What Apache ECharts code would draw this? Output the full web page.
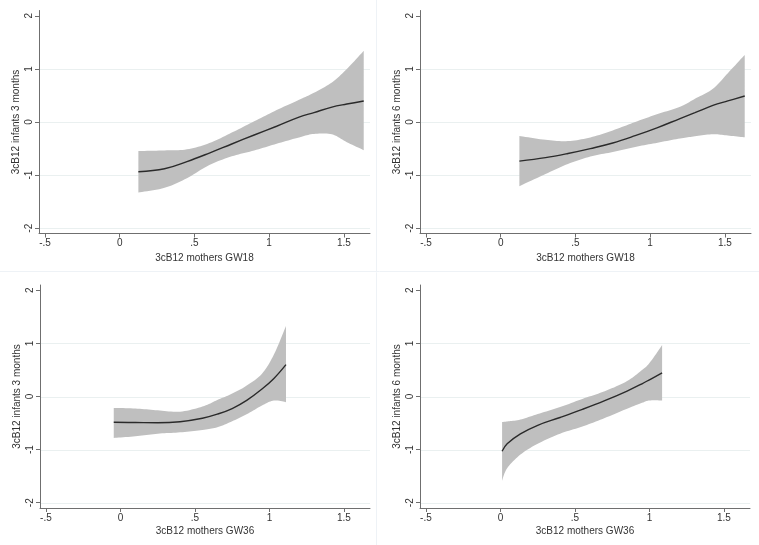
<!DOCTYPE html>
<html><head><meta charset="utf-8">
<script src="https://cdn.jsdelivr.net/npm/echarts@6/dist/echarts.min.js"></script>
<style>html,body{margin:0;padding:0;background:#fff}#c{width:759px;height:545px}</style>
</head><body><div id="c"></div>
<script>
// ---- tick labels / titles ----
const xTicks = [-0.5, 0, 0.5, 1, 1.5];
const yTicks = [-2, -1, 0, 1, 2];
const yGrid = [-2, -1, 0, 1];
const xTitles = ['3cB12 mothers GW18', '3cB12 mothers GW18', '3cB12 mothers GW36', '3cB12 mothers GW36'];
const yTitles = ['3cB12 infants 3 months', '3cB12 infants 6 months', '3cB12 infants 3 months', '3cB12 infants 6 months'];

// ---- panel 1: infants 3 months vs mothers GW18 ----
const p1X   = [0.125, 0.3, 0.45, 0.6, 0.75, 0.9, 1.05, 1.2, 1.3, 1.42, 1.52, 1.633];
const p1Fit = [-0.937, -0.88, -0.745, -0.585, -0.414, -0.245, -0.08, 0.092, 0.178, 0.281, 0.338, 0.396];
const p1Hi  = [-0.547, -0.535, -0.515, -0.397, -0.2, 0.013, 0.224, 0.418, 0.55, 0.746, 1.0, 1.34];
const p1Lo  = [-1.327, -1.24, -1.058, -0.81, -0.647, -0.537, -0.41, -0.29, -0.225, -0.232, -0.38, -0.53];

// ---- panel 2: infants 6 months vs mothers GW18 ----
const p2X   = [0.125, 0.3, 0.45, 0.6, 0.75, 0.9, 1.05, 1.2, 1.3, 1.42, 1.52, 1.633];
const p2Fit = [-0.736, -0.671, -0.593, -0.501, -0.396, -0.258, -0.105, 0.065, 0.176, 0.312, 0.397, 0.49];
const p2Hi  = [-0.264, -0.335, -0.36, -0.29, -0.158, 0.0, 0.15, 0.285, 0.438, 0.625, 0.92, 1.264];
const p2Lo  = [-1.208, -0.98, -0.79, -0.65, -0.565, -0.47, -0.39, -0.31, -0.27, -0.23, -0.255, -0.289];

// ---- panel 3: infants 3 months vs mothers GW36 ----
const p3X   = [-0.045, 0.1, 0.25, 0.4, 0.55, 0.65, 0.75, 0.85, 0.95, 1.03, 1.111];
const p3Fit = [-0.485, -0.49, -0.495, -0.475, -0.41, -0.333, -0.227, -0.068, 0.14, 0.34, 0.6];
const p3Hi  = [-0.215, -0.226, -0.26, -0.285, -0.19, -0.066, 0.055, 0.21, 0.43, 0.79, 1.33];
const p3Lo  = [-0.78, -0.75, -0.7, -0.675, -0.63, -0.58, -0.466, -0.33, -0.17, -0.075, -0.107];

// ---- panel 4: infants 6 months vs mothers GW36 ----
const p4X   = [0.011, 0.045, 0.134, 0.25, 0.4, 0.55, 0.7, 0.85, 0.95, 1.0, 1.085];
const p4Fit = [-1.03, -0.89, -0.704, -0.542, -0.395, -0.242, -0.078, 0.103, 0.24, 0.315, 0.445];
const p4Hi  = [-0.48, -0.47, -0.435, -0.33, -0.2, -0.045, 0.1, 0.29, 0.5, 0.63, 0.968];
const p4Lo  = [-1.585, -1.35, -1.094, -0.89, -0.7, -0.566, -0.405, -0.23, -0.12, -0.075, -0.075];

const panels = [
  {X: p1X, fit: p1Fit, hi: p1Hi, lo: p1Lo},
  {X: p2X, fit: p2Fit, hi: p2Hi, lo: p2Lo},
  {X: p3X, fit: p3Fit, hi: p3Hi, lo: p3Lo},
  {X: p4X, fit: p4Fit, hi: p4Hi, lo: p4Lo}
];

// ---- layout ----
const X_MIN = -0.54, X_MAX = 1.675, Y_MIN = -2.1, Y_MAX = 2.1;
const grids = [
  {left: 39, top: 10.5, width: 331, height: 223},
  {left: 420, top: 10.5, width: 331, height: 223},
  {left: 40, top: 285, width: 330, height: 223},
  {left: 420, top: 285, width: 330, height: 223}
];
const xNameGaps = [20, 20, 18, 18];
const FONT = 'Liberation Sans, Arial, sans-serif';
const TXT = '#333333';
const AX = '#6f6f6f';

function fmt(v) {
  if (v === 0) return '0';
  const s = String(Math.abs(v)).replace(/^0\./, '.');
  return (v < 0 ? '-' : '') + s;
}

function spline(pts, n) {
  const out = [];
  for (let i = 0; i < pts.length - 1; i++) {
    const p0 = pts[i - 1] || pts[i], p1 = pts[i], p2 = pts[i + 1], p3 = pts[i + 2] || pts[i + 1];
    for (let k = 0; k < n; k++) {
      const t = k / n, t2 = t * t, t3 = t2 * t;
      const f = (a, b, c, d) => 0.5 * ((2 * b) + (-a + c) * t + (2 * a - 5 * b + 4 * c - d) * t2 + (-a + 3 * b - 3 * c + d) * t3);
      out.push([f(p0[0], p1[0], p2[0], p3[0]), f(p0[1], p1[1], p2[1], p3[1])]);
    }
  }
  out.push(pts[pts.length - 1]);
  return out;
}

function bandRender(P) {
  return function (params, api) {
    if (params.dataIndex !== 0) return null;
    const up = P.X.map((x, i) => api.coord([x, P.hi[i]]));
    const lo = P.X.map((x, i) => api.coord([x, P.lo[i]]));
    const pts = spline(up, 10).concat(spline(lo, 10).reverse());
    return {type: 'polygon', shape: {points: pts}, style: {fill: '#bfbfbf', stroke: null}};
  };
}

function gridRender(params, api) {
  const y = api.value(1);
  const a = api.coord([X_MIN, y]), b = api.coord([X_MAX, y]);
  const yy = Math.round(a[1]) + 0.5;
  return {type: 'line', shape: {x1: a[0] + 1, y1: yy, x2: b[0], y2: yy},
          style: {stroke: '#eaf0f0', lineWidth: 1}};
}

const option = {
  backgroundColor: '#ffffff',
  animation: false,
  graphic: [
    {type: 'line', silent: true, shape: {x1: 376.5, y1: 0, x2: 376.5, y2: 545}, style: {stroke: '#eef2f6', lineWidth: 1}},
    {type: 'line', silent: true, shape: {x1: 0, y1: 271.5, x2: 759, y2: 271.5}, style: {stroke: '#eef2f6', lineWidth: 1}}
  ],
  grid: grids.map(g => Object.assign({outerBoundsMode: 'none', containLabel: false}, g)),
  xAxis: grids.map((g, i) => ({
    type: 'value', gridIndex: i, min: X_MIN, max: X_MAX,
    axisLine: {show: true, onZero: false, lineStyle: {color: AX, width: 1}},
    axisTick: {show: true, customValues: xTicks, length: 4, lineStyle: {color: AX}},
    axisLabel: {customValues: xTicks, formatter: fmt, fontSize: 10, color: TXT, margin: 5, fontFamily: FONT},
    splitLine: {show: false},
    name: xTitles[i], nameLocation: 'middle', nameGap: xNameGaps[i], nameMoveOverlap: false,
    nameTextStyle: {fontSize: 10, color: TXT, fontFamily: FONT}
  })),
  yAxis: grids.map((g, i) => ({
    type: 'value', gridIndex: i, min: Y_MIN, max: Y_MAX,
    axisLine: {show: true, onZero: false, lineStyle: {color: AX, width: 1}},
    axisTick: {show: true, customValues: yTicks, length: 4, lineStyle: {color: AX}},
    axisLabel: {customValues: yTicks, formatter: fmt, fontSize: 10, color: TXT, margin: 5, rotate: 90, fontFamily: FONT},
    splitLine: {show: false},
    name: yTitles[i], nameLocation: 'middle', nameGap: 18, nameMoveOverlap: false,
    nameTextStyle: {fontSize: 10, color: TXT, fontFamily: FONT}
  })),
  series: []
};

panels.forEach((P, i) => {
  option.series.push({
    type: 'custom', xAxisIndex: i, yAxisIndex: i, z: 1, silent: true,
    data: yGrid.map(y => [X_MIN, y]), renderItem: gridRender
  });
  option.series.push({
    type: 'custom', xAxisIndex: i, yAxisIndex: i, z: 2, silent: true,
    data: P.X.map((x, k) => [x, P.lo[k], P.hi[k]]),
    encode: {x: 0, y: [1, 2]},
    renderItem: bandRender(P)
  });
  option.series.push({
    type: 'line', xAxisIndex: i, yAxisIndex: i, z: 3, silent: true,
    data: P.X.map((x, k) => [x, P.fit[k]]),
    smooth: 0.4, symbol: 'none',
    lineStyle: {color: '#2a2a2a', width: 1.4}
  });
});

const chart = echarts.init(document.getElementById('c'), null, {renderer: 'canvas'});
chart.setOption(option);
</script>
</body></html>
